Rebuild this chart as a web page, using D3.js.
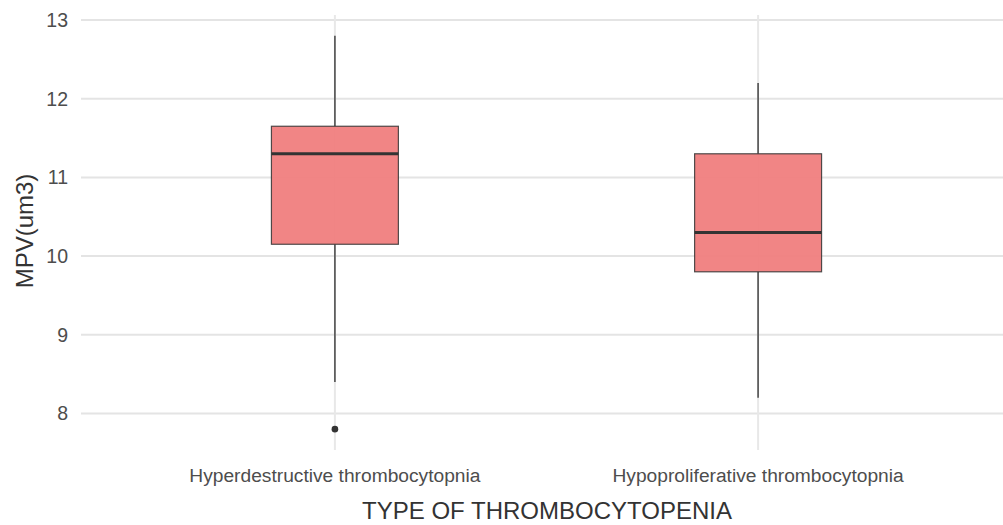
<!DOCTYPE html>
<html><head><meta charset="utf-8">
<script src="https://cdn.jsdelivr.net/npm/d3@7"></script>
<style>body{margin:0;background:#fff;} svg{display:block;}</style>
</head><body>
<svg id="c" width="1003" height="525"></svg>
<script>
const categories = ["Hyperdestructive thrombocytopnia", "Hypoproliferative thrombocytopnia"];
const whiskerLow = [8.4, 8.2];
const q1 = [10.15, 9.8];
const median = [11.3, 10.3];
const q3 = [11.65, 11.3];
const whiskerHigh = [12.8, 12.2];
const outliers = [[7.8], []];
const yTicks = [8, 9, 10, 11, 12, 13];
const yTitle = "MPV(um3)";
const xTitle = "TYPE OF THROMBOCYTOPENIA";

(function () {
const svg = d3.select("#c");
const pL = 81, pR = 1012, pT = 15, pB = 450;
const font = "Liberation Sans, Arial, sans-serif";
const x = d3.scaleLinear().domain([0.4, 2.6]).range([pL, pR]);
const y = d3.scaleLinear().domain([7.535, 13.064]).range([pB, pT]);
const boxW = 0.3;

const g = svg.append("g");
// grid
g.selectAll(".hg").data(yTicks).join("line")
  .attr("x1", pL).attr("x2", 1003)
  .attr("y1", d => y(d)).attr("y2", d => y(d))
  .attr("stroke", "#e4e4e4").attr("stroke-width", 2);
g.selectAll(".vg").data(categories).join("line")
  .attr("x1", (d,i) => x(i+1)).attr("x2", (d,i) => x(i+1))
  .attr("y1", pT).attr("y2", pB)
  .attr("stroke", "#e8e8e8").attr("stroke-width", 2);

// y tick labels
g.selectAll(".yt").data(yTicks).join("text")
  .attr("x", 68).attr("y", d => y(d)).attr("dy", "0.36em")
  .attr("text-anchor", "end").attr("font-family", font)
  .attr("font-size", 19.5).attr("fill", "#4d4d4d").text(d => d);

// x tick labels
g.selectAll(".xt").data(categories).join("text")
  .attr("x", (d,i) => x(i+1)).attr("y", 482)
  .attr("text-anchor", "middle").attr("font-family", font)
  .attr("font-size", 19.2).attr("fill", "#4d4d4d").text(d => d);

// titles
svg.append("text").attr("transform", `translate(32.5,231) rotate(-90)`)
  .attr("text-anchor", "middle").attr("font-family", font)
  .attr("font-size", 24).attr("fill", "#333").text(yTitle);
svg.append("text").attr("x", 547).attr("y", 519)
  .attr("text-anchor", "middle").attr("font-family", font)
  .attr("font-size", 24).attr("fill", "#333").text(xTitle);

// boxes
categories.forEach((c, i) => {
  const cx = x(i+1);
  const bx0 = x(i+1-boxW/2), bx1 = x(i+1+boxW/2);
  g.append("line").attr("x1", cx).attr("x2", cx).attr("y1", y(whiskerHigh[i])).attr("y2", y(q3[i]))
    .attr("stroke", "#333").attr("stroke-opacity", 0.85).attr("stroke-width", 1.6);
  g.append("line").attr("x1", cx).attr("x2", cx).attr("y1", y(q1[i])).attr("y2", y(whiskerLow[i]))
    .attr("stroke", "#333").attr("stroke-opacity", 0.85).attr("stroke-width", 1.6);
  g.append("rect").attr("x", bx0).attr("width", bx1 - bx0)
    .attr("y", y(q3[i])).attr("height", y(q1[i]) - y(q3[i]))
    .attr("fill", "#F08080").attr("fill-opacity", 0.96)
    .attr("stroke", "#333").attr("stroke-opacity", 0.85).attr("stroke-width", 1.2);
  g.append("line").attr("x1", bx0).attr("x2", bx1).attr("y1", y(median[i])).attr("y2", y(median[i]))
    .attr("stroke", "#333").attr("stroke-width", 3);
  g.selectAll(null).data(outliers[i]).join("circle")
    .attr("cx", cx).attr("cy", d => y(d)).attr("r", 3.3).attr("fill", "#333");
});
})();
</script>
</body></html>
